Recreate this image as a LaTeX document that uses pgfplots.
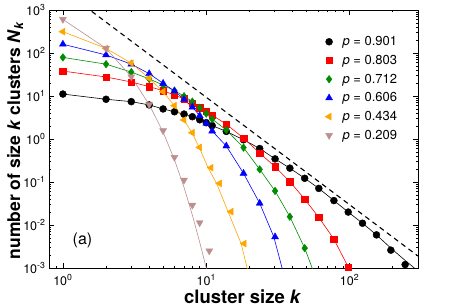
\documentclass[border=0pt]{standalone}
\usepackage{fontspec}
\setmainfont{TeX Gyre Heros}
\usepackage{pgfplots}
\pgfplotsset{compat=1.18}
\definecolor{ggreen}{RGB}{0,139,0}
\definecolor{gorange}{RGB}{255,165,0}
\definecolor{gbrown}{RGB}{188,143,143}
\begin{document}
\begin{tikzpicture}
\useasboundingbox (-49pt,-38pt) rectangle (422pt,268pt);
\begin{axis}[
  xmode=log, ymode=log,
  scale only axis, width=369pt, height=258pt,
  xmin=0.8, xmax=300, ymin=1e-3, ymax=1e3,
  xtick={1,10,100},
  xticklabels={10\textsuperscript{0},10\textsuperscript{1},10\textsuperscript{2}},
  ytick={1e-3,1e-2,1e-1,1,10,100,1000},
  yticklabels={10\textsuperscript{-3},10\textsuperscript{-2},10\textsuperscript{-1},10\textsuperscript{0},10\textsuperscript{1},10\textsuperscript{2},10\textsuperscript{3}},
  minor xtick={0.9,2,3,4,5,6,7,8,9,20,30,40,50,60,70,80,90,200,300},
  minor ytick={2e-3,3e-3,4e-3,5e-3,6e-3,7e-3,8e-3,9e-3,2e-2,3e-2,4e-2,5e-2,6e-2,7e-2,8e-2,9e-2,0.2,0.3,0.4,0.5,0.6,0.7,0.8,0.9,2,3,4,5,6,7,8,9,20,30,40,50,60,70,80,90,200,300,400,500,600,700,800,900},
  tick align=inside, major tick length=5pt, minor tick length=2.5pt,
  tick style={black, line width=0.6pt},
  axis line style={line width=0.8pt},
  ticklabel style={font=\fontsize{12.5}{14}\selectfont},
  xticklabel style={yshift=-3pt},
  xlabel={\textbf{cluster size \textit{k}}},
  ylabel={\textbf{number of size \textit{k} clusters \textit{N}\textsubscript{\textit{k}}}},
  xlabel style={at={(axis description cs:0.525,-0.1097)}, anchor=center, inner sep=0pt, font=\fontsize{18.5}{20}\selectfont},
  ylabel style={at={(axis description cs:-0.0921,0.495)}, anchor=center, inner sep=0pt, font=\fontsize{17.5}{20}\selectfont},
  legend style={at={(axis description cs:0.745,0.91)}, anchor=north west, draw=none, fill=none, font=\fontsize{13}{14}\selectfont, row sep=4pt, column sep=8pt, inner sep=1pt},
  legend cell align=left,
]
% dashed power law
\addplot[black, dashed, line width=1.1pt, dash pattern=on 5pt off 4pt, forget plot] coordinates {(1,2950) (300,0.0019)};

% p = 0.901
\addplot[black, line width=0.6pt, forget plot] coordinates {
(1,11.1)(2,8.4)(3,7.4)(4,6.2)(5,5.0)(6,4.3)(7,3.8)(8,3.3)(9,2.8)(10,2.4)(11,2.05)(13.8,1.5)(18.2,0.96)(23.6,0.6)(30.2,0.345)(38.3,0.21)(48.6,0.122)(61,0.071)(77.7,0.037)(97.8,0.020)(123,0.011)(154,0.0059)(194,0.0029)(244,0.0015)(300,0.00085)};
\addplot[only marks, mark=*, mark size=3.5pt, mark options={fill=black, draw=black}] coordinates {
(1,11.1)(2,8.4)(3,7.4)(4,6.2)(5,5.0)(6,4.3)(7,3.8)(8,3.3)(9,2.8)(10,2.4)(11,2.05)(13.8,1.5)(18.2,0.96)(23.6,0.6)(30.2,0.345)(38.3,0.21)(48.6,0.122)(61,0.071)(77.7,0.037)(97.8,0.020)(123,0.011)(154,0.0059)(194,0.0026)(244,0.0012)};
\addlegendentry{\textit{p} = 0.901}

% p = 0.803
\addplot[red, line width=0.6pt, forget plot] coordinates {
(1,38)(2,27.7)(3,21.2)(4,16.5)(5,13.3)(6,10.5)(7,8.6)(8,6.9)(9,5.4)(10,4.4)(11,3.6)(13.8,2.2)(18.2,1.05)(23.6,0.47)(30.2,0.227)(38.3,0.102)(48.6,0.04)(61,0.015)(77.7,0.0047)(98,0.00104)(102,0.0007)};
\addplot[only marks, mark=square*, mark size=3.2pt, mark options={fill=red, draw=red}] coordinates {
(1,38)(2,27.7)(3,21.2)(4,16.5)(5,13.3)(6,10.5)(7,8.6)(8,6.9)(9,5.4)(10,4.4)(11,3.6)(13.8,2.2)(18.2,1.05)(23.6,0.47)(30.2,0.227)(38.3,0.102)(48.6,0.04)(61,0.015)(77.7,0.0047)(98,0.00104)};
\addlegendentry{\textit{p} = 0.803}

% p = 0.712
\addplot[ggreen, line width=0.6pt, forget plot] coordinates {
(1,79)(2,55)(3,36)(4,25)(5,18)(6,13.3)(7,9.9)(8,7.4)(9,5.3)(10,3.9)(11,2.9)(13.8,1.62)(18.2,0.63)(23.6,0.197)(30.2,0.062)(38.3,0.0156)(48.6,0.0029)(54.8,0.001)(56,0.0007)};
\addplot[only marks, mark=diamond*, mark size=3.8pt, mark options={fill=ggreen, draw=ggreen}] coordinates {
(1,79)(2,55)(3,36)(4,25)(5,18)(6,13.3)(7,9.9)(8,7.4)(9,5.3)(10,3.9)(11,2.9)(13.8,1.62)(18.2,0.63)(23.6,0.197)(30.2,0.062)(38.3,0.0156)(48.6,0.0029)};
\addlegendentry{\textit{p} = 0.712}

% p = 0.606
\addplot[blue, line width=0.6pt, forget plot] coordinates {
(1,160)(2,90)(3,55)(4,33)(5,19.7)(6,13.1)(7,8.3)(8,5.5)(9,3.5)(10,2.32)(11,1.53)(13.8,0.687)(18.2,0.159)(23.6,0.032)(29.6,0.0053)(33.8,0.001)(35,0.0006)};
\addplot[only marks, mark=triangle*, mark size=4pt, mark options={fill=blue, draw=blue}] coordinates {
(1,160)(2,90)(3,55)(4,33)(5,19.7)(6,13.1)(7,8.3)(8,5.5)(9,3.5)(10,2.32)(11,1.53)(13.8,0.687)(18.2,0.159)(23.6,0.032)(30.2,0.0053)};
\addlegendentry{\textit{p} = 0.606}

% p = 0.434
\addplot[gorange, line width=0.6pt, forget plot] coordinates {
(1,313)(2,128)(3,58)(4,25.8)(5,12.6)(6,5.96)(7,2.77)(8,1.35)(9,0.6)(10.3,0.215)(11.8,0.093)(14.2,0.0204)(17.5,0.0037)(19.3,0.001)(20,0.0006)};
\addplot[only marks, mark=triangle*, mark size=4pt, mark options={fill=gorange, draw=gorange, rotate=90}] coordinates {
(1,313)(2,128)(3,58)(4,25.8)(5,12.6)(6,5.96)(7,2.77)(8,1.4)(9,0.64)(10.8,0.215)(12.4,0.093)(14.9,0.0204)(18.4,0.0037)};
\addlegendentry{\textit{p} = 0.434}

% p = 0.209
\addplot[gbrown, line width=0.6pt, forget plot] coordinates {
(1,605)(2,128)(3,28)(4,6.3)(5,1.45)(6,0.33)(7,0.075)(8,0.017)(9,0.004)(10,0.001)(10.3,0.0006)};
\addplot[only marks, mark=triangle*, mark size=4pt, mark options={fill=gbrown, draw=gbrown, rotate=180}] coordinates {
(1,605)(2,128)(3,28)(4,6.3)(5,1.56)(6,0.375)(7,0.111)(8,0.029)(9,0.0113)(10.5,0.0025)};
\addlegendentry{\textit{p} = 0.209}

\node[font=\fontsize{16}{18}\selectfont] at (axis description cs:0.0908,0.1066) {(a)};
\end{axis}
\end{tikzpicture}
\end{document}
